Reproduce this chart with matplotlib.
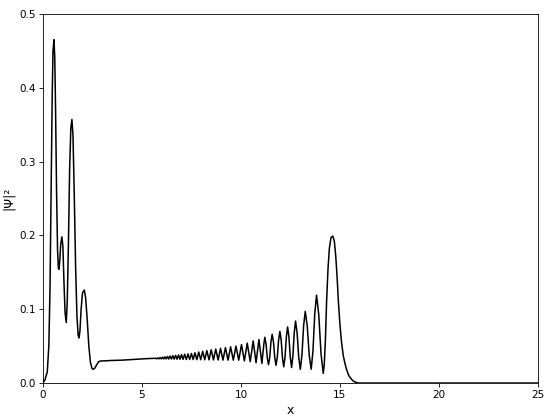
import matplotlib
matplotlib.use("Agg")
import matplotlib.pyplot as plt

# Leading structure (x, |psi|^2)
head_x = [0.0, 0.1, 0.22, 0.30, 0.36, 0.42, 0.47, 0.51, 0.56, 0.60, 0.64, 0.69, 0.74, 0.78, 0.81, 0.85, 0.90,
          0.96, 1.01, 1.06, 1.12, 1.18, 1.23, 1.29, 1.35, 1.41, 1.465, 1.52, 1.58, 1.65, 1.72, 1.78, 1.82,
          1.87, 1.93, 2.00, 2.09, 2.16, 2.24, 2.32, 2.40, 2.48, 2.54, 2.62, 2.72, 2.82, 2.95, 3.13, 3.4,
          4.0, 4.6, 5.2]
head_y = [0.0, 0.004, 0.015, 0.05, 0.13, 0.27, 0.39, 0.45, 0.465, 0.44, 0.37, 0.26, 0.18, 0.156, 0.154, 0.165,
          0.188, 0.198, 0.185, 0.14, 0.095, 0.082, 0.11, 0.19, 0.29, 0.345, 0.357, 0.335, 0.26, 0.16, 0.09,
          0.065, 0.061, 0.07, 0.10, 0.122, 0.126, 0.115, 0.085, 0.05, 0.028, 0.02, 0.0186, 0.02, 0.025,
          0.029, 0.030, 0.030, 0.0305, 0.031, 0.032, 0.033]

# Oscillation maxima
peak_x = [5.69, 5.80, 5.92, 6.04, 6.16, 6.29, 6.42, 6.56, 6.70, 6.85, 7.00, 7.16, 7.33, 7.50, 7.68, 7.87,
          8.07, 8.28, 8.50, 8.73, 8.97, 9.22, 9.48, 9.75, 10.03, 10.32, 10.62, 10.91, 11.21, 11.58, 11.97,
          12.36, 12.76, 13.25, 13.82]
peak_y = [0.0335, 0.034, 0.0345, 0.035, 0.0355, 0.036, 0.0365, 0.037, 0.0375, 0.038, 0.0385, 0.039, 0.0395,
          0.040, 0.041, 0.042, 0.043, 0.044, 0.045, 0.046, 0.047, 0.048, 0.049, 0.050, 0.052, 0.054, 0.057,
          0.059, 0.062, 0.066, 0.070, 0.076, 0.084, 0.097, 0.119]
# Oscillation minima
trough_x = [5.745, 5.86, 5.98, 6.10, 6.225, 6.355, 6.49, 6.63, 6.775, 6.925, 7.08, 7.245, 7.415, 7.59,
            7.775, 7.97, 8.175, 8.39, 8.615, 8.85, 9.095, 9.35, 9.615, 9.89, 10.175, 10.47, 10.765, 11.06,
            11.395, 11.775, 12.165, 12.56, 13.0, 13.55]
trough_y = [0.0328, 0.0328, 0.0327, 0.0327, 0.0326, 0.0326, 0.0325, 0.0324, 0.0323, 0.0322, 0.0321, 0.032,
            0.0319, 0.0318, 0.0317, 0.0316, 0.0315, 0.0314, 0.0313, 0.0312, 0.0311, 0.031, 0.031, 0.031,
            0.030, 0.029, 0.0275, 0.0266, 0.025, 0.024, 0.022, 0.021, 0.0186, 0.0186]
# Points on the rounded tops/bottoms of the larger oscillations
shoulder_x = [11.16, 11.27, 11.333, 11.457, 11.518, 11.645, 11.71, 11.84, 11.905, 12.035, 12.10, 12.23,
              12.295, 12.427, 12.493, 12.627, 12.693, 12.84, 12.92, 13.083, 13.167, 13.35, 13.45, 13.64,
              13.73, 13.933, 14.047]
shoulder_y = [0.053, 0.053, 0.034, 0.035, 0.0558, 0.0555, 0.0345, 0.0355, 0.0585, 0.058, 0.034, 0.0355,
              0.0625, 0.062, 0.035, 0.037, 0.068, 0.0677, 0.035, 0.038, 0.0774, 0.0774, 0.038, 0.0437,
              0.0939, 0.0925, 0.0395]

# Final packet
tail_x = [14.16, 14.21, 14.27, 14.33, 14.40, 14.47, 14.55, 14.64, 14.72, 14.79, 14.86, 14.92, 15.0, 15.08,
          15.17, 15.26, 15.34, 15.45, 15.56, 15.66, 15.8, 15.95, 25.0]
tail_y = [0.013, 0.025, 0.06, 0.112, 0.155, 0.183, 0.197, 0.199, 0.192, 0.172, 0.143, 0.112, 0.08, 0.056,
          0.037, 0.026, 0.018, 0.010, 0.006, 0.003, 0.001, 0.0, 0.0]

osc = sorted(zip(peak_x + trough_x + shoulder_x, peak_y + trough_y + shoulder_y))
xs = head_x + [p[0] for p in osc] + tail_x
ys = head_y + [p[1] for p in osc] + tail_y

plt.rcParams.update({
    "font.size": 7.5,
    "axes.linewidth": 0.6,
    "xtick.major.size": 2.6, "ytick.major.size": 2.6,
    "xtick.major.width": 0.6, "ytick.major.width": 0.6,
    "xtick.major.pad": 2.6, "ytick.major.pad": 2.6,
})

fig = plt.figure(figsize=(5.5, 4.2), dpi=100)
ax = fig.add_axes([0.078, 0.088, 0.9, 0.879])
ax.plot(xs, ys, color="black", lw=1.1)
ax.set_xlim(0, 25)
ax.set_ylim(0, 0.5)
ax.set_xlabel("x", fontsize=9, labelpad=3)
ax.set_ylabel("|Ψ|²", fontsize=9, labelpad=3)
fig.savefig("out.png", dpi=100)
